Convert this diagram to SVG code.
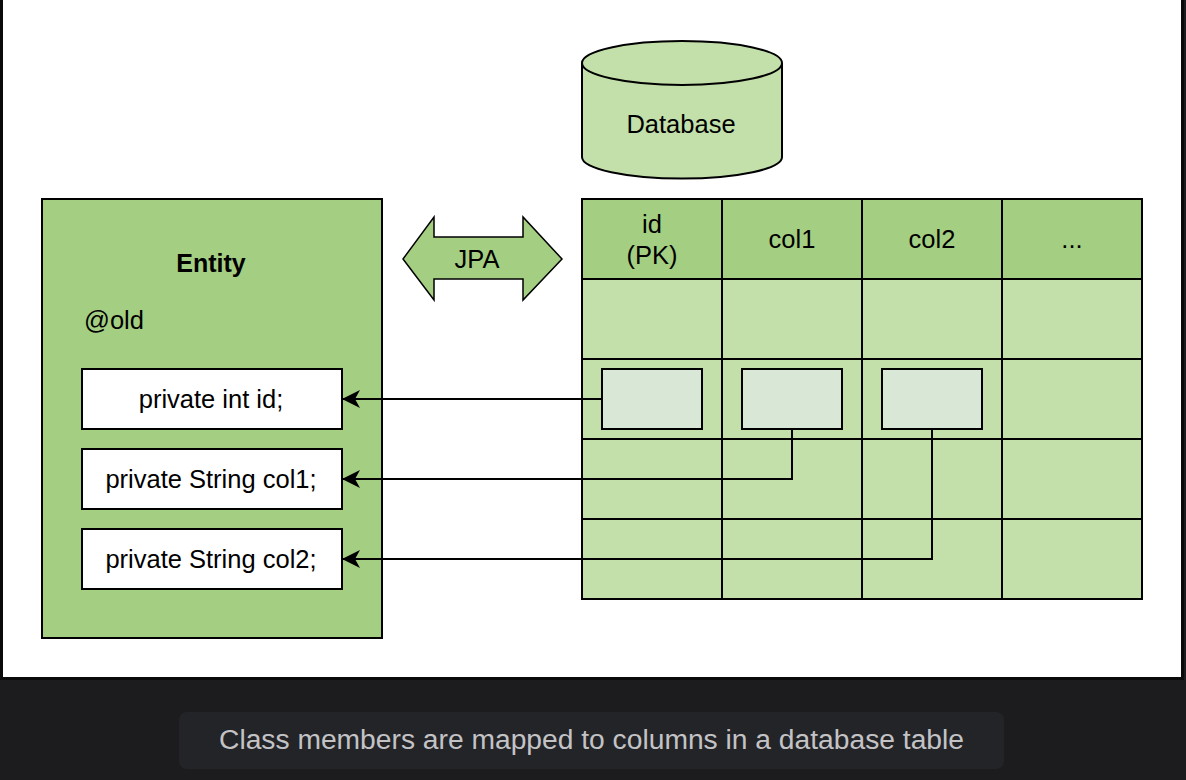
<svg xmlns="http://www.w3.org/2000/svg" width="1186" height="780" viewBox="0 0 1186 780">
  <style>
    .t { font-family: "Liberation Sans", Arial, sans-serif; font-size: 25.5px; fill: #000; text-anchor: middle; }
    .b { font-weight: bold; font-size: 25px; }
    .hdr { fill: #a4cf82; stroke: #000; stroke-width: 2; }
    .cell { fill: #c3e0ab; stroke: #000; stroke-width: 2; }
    .inner { fill: #d9e7d6; stroke: #000; stroke-width: 2; }
    .field { fill: #fff; stroke: #000; stroke-width: 2; }
    .conn { fill: none; stroke: #000; stroke-width: 2; marker-end: url(#arr); }
  </style>
  <defs>
    <marker id="arr" viewBox="0 0 18 18" refX="17" refY="9" markerWidth="18" markerHeight="18" markerUnits="userSpaceOnUse" orient="auto">
      <path d="M0,0 L18,9 L0,18 L5,9 Z" fill="#000"/>
    </marker>
  </defs>

  <rect x="0" y="0" width="1186" height="780" fill="#1c1c1e"/>
  <rect x="1.5" y="-3" width="1181" height="681.5" fill="#fff" stroke="#0a0a0a" stroke-width="3"/>

  <g id="database">
    <path d="M582,63 L582,157 A100,21.5 0 0 0 782,157 L782,63 A100,22 0 0 0 582,63 Z" fill="#c3e0ab" stroke="#000" stroke-width="2"/>
    <path d="M582,63 A100,22 0 0 0 782,63" fill="none" stroke="#000" stroke-width="2"/>
    <text class="t" x="681" y="133">Database</text>
  </g>

  <g id="entity">
    <rect class="hdr" x="42" y="199" width="340" height="439"/>
    <text class="t b" x="211" y="272">Entity</text>
    <text class="t" x="114" y="329">@old</text>
  </g>

  <g id="field-id">
    <rect class="field" x="82" y="369" width="260" height="60"/>
    <text class="t" x="211" y="408">private int id;</text>
  </g>
  <g id="field-col1">
    <rect class="field" x="82" y="449" width="260" height="60"/>
    <text class="t" x="211" y="488">private String col1;</text>
  </g>
  <g id="field-col2">
    <rect class="field" x="82" y="529" width="260" height="60"/>
    <text class="t" x="211" y="568">private String col2;</text>
  </g>

  <g id="jpa">
    <polygon points="403,259 434,217 434,237 523,237 523,217 562,259 523,300 523,279 434,279 434,300" fill="#a4cf82" stroke="#000" stroke-width="1.5"/>
    <text class="t" x="477" y="268">JPA</text>
  </g>

  <g id="table">
    <rect class="hdr" x="582" y="199" width="140" height="80"/>
    <rect class="hdr" x="722" y="199" width="140" height="80"/>
    <rect class="hdr" x="862" y="199" width="140" height="80"/>
    <rect class="hdr" x="1002" y="199" width="140" height="80"/>
    <rect class="cell" x="582" y="279" width="560" height="320"/>
    <path d="M722,279 V599 M862,279 V599 M1002,279 V599 M582,359 H1142 M582,439 H1142 M582,519 H1142" stroke="#000" stroke-width="2" fill="none"/>
    <text class="t" x="652" y="233">id</text>
    <text class="t" x="652" y="264">(PK)</text>
    <text class="t" x="792" y="248">col1</text>
    <text class="t" x="932" y="248">col2</text>
    <text class="t" x="1072" y="248">...</text>
  </g>

  <g id="cell-id"><rect class="inner" x="602" y="369" width="100" height="60"/></g>
  <g id="cell-col1"><rect class="inner" x="742" y="369" width="100" height="60"/></g>
  <g id="cell-col2"><rect class="inner" x="882" y="369" width="100" height="60"/></g>

  <g id="connectors">
    <path class="conn" d="M602,399 H343"/>
    <path class="conn" d="M792,429 V479 H343"/>
    <path class="conn" d="M932,429 V559 H343"/>
  </g>

  <g id="caption">
    <rect x="179" y="712" width="825" height="57" rx="8" fill="#232428"/>
    <text x="591.5" y="749" font-family="Liberation Sans, Arial, sans-serif" font-size="27" fill="#c3c3c6" text-anchor="middle" textLength="745" lengthAdjust="spacingAndGlyphs">Class members are mapped to columns in a database table</text>
  </g>
</svg>
